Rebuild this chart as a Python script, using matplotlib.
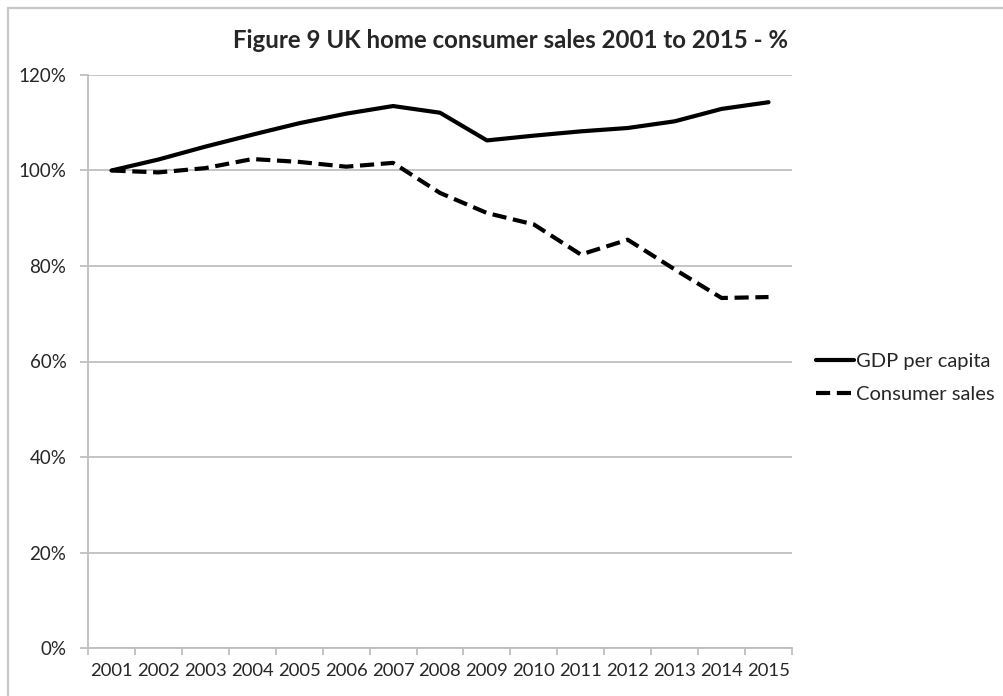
import numpy as np
import matplotlib
matplotlib.use("Agg")
import matplotlib.pyplot as plt
from matplotlib.patches import Rectangle

# -----------------------------
# Data
# -----------------------------
years = ["2001", "2002", "2003", "2004", "2005", "2006", "2007", "2008",
         "2009", "2010", "2011", "2012", "2013", "2014", "2015"]
gdp_per_capita = [100.0, 102.3, 105.0, 107.5, 109.9, 111.9, 113.5, 112.1,
                  106.3, 107.3, 108.2, 108.9, 110.3, 112.9, 114.3]
consumer_sales = [100.0, 99.6, 100.5, 102.4, 101.8, 100.8, 101.6, 95.3,
                  91.1, 88.7, 82.4, 85.5, 79.3, 73.3, 73.5]
y_ticks = [0, 20, 40, 60, 80, 100, 120]

plt.rcParams["font.family"] = ["Lato", "DejaVu Sans"]
text_col = "#262626"
grid_col = "#bfbfbf"

W, H = 1004, 696
fig = plt.figure(figsize=(W / 100, H / 100), dpi=100)
ax = fig.add_axes([88 / W, 1 - 648 / H, (792 - 88) / W, (648 - 75) / H])

# chart border (only top and left edges are visible in the crop)
fig.patches.append(Rectangle((8 / W, -0.1), 1.2, 1.1 - 8 / H,
                             transform=fig.transFigure, fill=False,
                             edgecolor="#c8c8c8", linewidth=1.6))

x = np.arange(len(years)) + 0.5
ax.plot(x, gdp_per_capita, color="black", lw=3.0, solid_capstyle="round",
        solid_joinstyle="round", label="GDP per capita")
ax.plot(x, consumer_sales, color="black", lw=3.0, dashes=(3.4, 1.6),
        dash_capstyle="butt", label="Consumer sales")

ax.set_xlim(0, len(years))
ax.set_ylim(0, 120)

# y axis
ax.set_yticks(y_ticks)
ax.set_yticklabels([f"{v}%" for v in y_ticks])
ax.yaxis.grid(True, color=grid_col, lw=1.3)
ax.set_axisbelow(True)

# x axis: ticks at category boundaries, labels at centres
ax.set_xticks(np.arange(len(years) + 1))
ax.set_xticklabels([])
ax.set_xticks(x, minor=True)
ax.set_xticklabels(years, minor=True)
ax.tick_params(axis="x", which="minor", length=0, pad=11, labelsize=13.3)
ax.tick_params(axis="x", which="major", length=5, color=grid_col, width=1.3)
ax.tick_params(axis="y", length=6, color=grid_col, width=1.3, pad=9.5,
               labelsize=13.5)
ax.tick_params(which="both", labelcolor=text_col)

for side in ["top", "right"]:
    ax.spines[side].set_visible(False)
for side in ["left", "bottom"]:
    ax.spines[side].set_color(grid_col)
    ax.spines[side].set_linewidth(1.3)

fig.text(511 / W, 1 - 40 / H, "Figure 9 UK home consumer sales 2001 to 2015 - %",
         ha="center", va="center", fontsize=17.3, fontweight="bold", color=text_col)

ax.legend(loc="center left", bbox_to_anchor=(798 / W, 1 - 378 / H),
          bbox_transform=fig.transFigure, frameon=False, fontsize=14.5,
          handlelength=1.9, handletextpad=0.1, labelspacing=0.75,
          labelcolor=text_col)

fig.savefig("out.png", dpi=100)
